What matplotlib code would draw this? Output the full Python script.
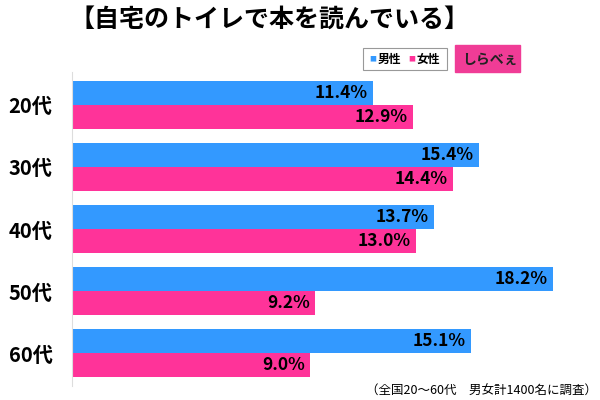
import matplotlib.pyplot as plt
import numpy as np

plt.rcParams['font.family'] = ['Noto Sans CJK JP', 'DejaVu Sans']

# data
ages = ['20代', '30代', '40代', '50代', '60代']
male = [11.4, 15.4, 13.7, 18.2, 15.1]
female = [12.9, 14.4, 13.0, 9.2, 9.0]

blue = '#3399ff'
pink = '#ff3399'

fig = plt.figure(figsize=(6, 4), dpi=100)
ax = fig.add_axes([72 / 600, 1 - 386 / 400, (590 - 72) / 600, (386 - 72) / 400])

y = np.arange(len(ages))
h = 0.39
ax.barh(y - h / 2, male, height=h, color=blue)
ax.barh(y + h / 2, female, height=h, color=pink)

for i in range(len(ages)):
    ax.text(male[i] - 0.2, y[i] - h / 2, '%.1f%%' % male[i], ha='right', va='center',
            fontsize=12.5, fontweight='bold')
    ax.text(female[i] - 0.2, y[i] + h / 2, '%.1f%%' % female[i], ha='right', va='center',
            fontsize=12.5, fontweight='bold')

ax.set_xlim(0, 19.6)
ax.set_ylim(len(ages) - 0.5 + 0.03, -0.5 - 0.03)
ax.set_yticks(y)
ax.set_yticklabels(ages, fontsize=14.5, fontweight='bold')
ax.tick_params(axis='y', length=0, pad=14)
ax.set_xticks([])
for s in ['top', 'right', 'bottom']:
    ax.spines[s].set_visible(False)
ax.spines['left'].set_color('#dddddd')

# title
fig.text(0.45, 1 - 20 / 400, '【自宅のトイレで本を読んでいる】', ha='center', va='center',
         fontsize=18, fontweight='bold')

# legend box
fig.patches.append(plt.Rectangle((363 / 600, 1 - 70 / 400), 84 / 600, 22 / 400,
                                 transform=fig.transFigure, fill=False,
                                 edgecolor='#999999', linewidth=0.8))
fig.text(373 / 600, 1 - 59 / 400, '■', color=blue, fontsize=5, ha='center', va='center')
fig.text(378 / 600, 1 - 59 / 400, '男性', fontsize=8.5, fontweight='bold', va='center')
fig.text(412 / 600, 1 - 59 / 400, '■', color=pink, fontsize=5, ha='center', va='center')
fig.text(417 / 600, 1 - 59 / 400, '女性', fontsize=8.5, fontweight='bold', va='center')

# logo
fig.patches.append(plt.Rectangle((455 / 600, 1 - 72 / 400), 65 / 600, 27 / 400,
                                 transform=fig.transFigure, color='#f03c96'))
fig.text(490 / 600, 1 - 60 / 400, 'しらべぇ', fontsize=10, fontweight='bold',
         color='#222222', ha='center', va='center')

# footnote
fig.text(597 / 600, 1 - 391 / 400, '（全国20～60代　男女計1400名に調査）', ha='right', va='center',
         fontsize=9)

fig.savefig('out.png', dpi=100, facecolor='white')
